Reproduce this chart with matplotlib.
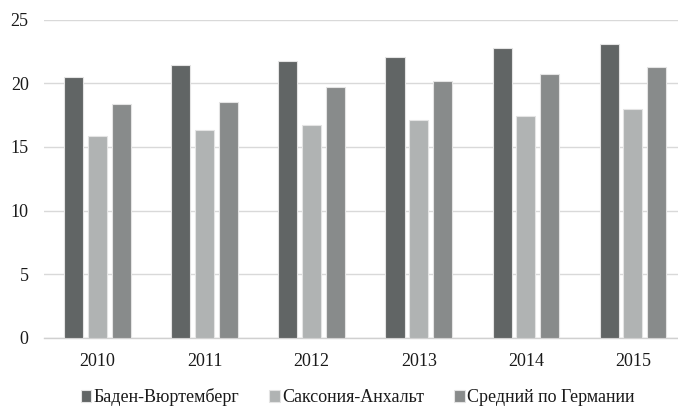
import numpy as np
import matplotlib
matplotlib.use('Agg')
import matplotlib.pyplot as plt

# values
years = ['2010', '2011', '2012', '2013', '2014', '2015']
baden = [20.5, 21.4, 21.75, 22.05, 22.8, 23.1]
saxony = [15.85, 16.35, 16.75, 17.1, 17.45, 18.0]
germany = [18.4, 18.5, 19.7, 20.2, 20.75, 21.3]
series_names = ['Баден-Вюртемберг', 'Саксония-Анхальт', 'Средний по Германии']
y_ticks = [0, 5, 10, 15, 20, 25]

plt.rcParams['font.family'] = ['Liberation Serif', 'DejaVu Serif']

fig = plt.figure(figsize=(6.78, 4.08), dpi=100)
# plot area runs a bit past the right edge of the picture, as in the reference
ax = fig.add_axes([44 / 678, 70 / 408, 642.5 / 678, 318.5 / 408])

x = np.arange(len(years))
w = 0.178
off = 0.222
colors = ['#616565', '#b0b3b3', '#888b8b']
for i, (vals, c) in enumerate(zip([baden, saxony, germany], colors)):
    ax.bar(x + (i - 1) * off, vals, w, color=c, edgecolor='#e4e4e4',
           linewidth=0.8, label=series_names[i], zorder=3)

ax.set_xlim(-0.5, len(years) - 0.5)
ax.set_ylim(0, 25)
ax.set_yticks(y_ticks)
ax.set_xticks(x)
ax.set_xticklabels(years)
ax.yaxis.grid(True, color='#d9d9d9', linewidth=1.0, zorder=0)
ax.set_axisbelow(True)
for s in ['top', 'right', 'left']:
    ax.spines[s].set_visible(False)
ax.spines['bottom'].set_color('#d0d0d0')
ax.spines['bottom'].set_linewidth(1.0)
ax.tick_params(axis='both', length=0, labelsize=13, colors='#1a1a1a')
ax.tick_params(axis='y', pad=11)
ax.tick_params(axis='x', pad=11)

fig.legend(loc='center', bbox_to_anchor=(357.5 / 678, 1 - 397.5 / 408), ncol=3,
           frameon=False, fontsize=13, handlelength=0.6, handleheight=0.6,
           handletextpad=0.12, columnspacing=1.65, labelcolor='#1a1a1a')

fig.savefig('out.png', dpi=100)
